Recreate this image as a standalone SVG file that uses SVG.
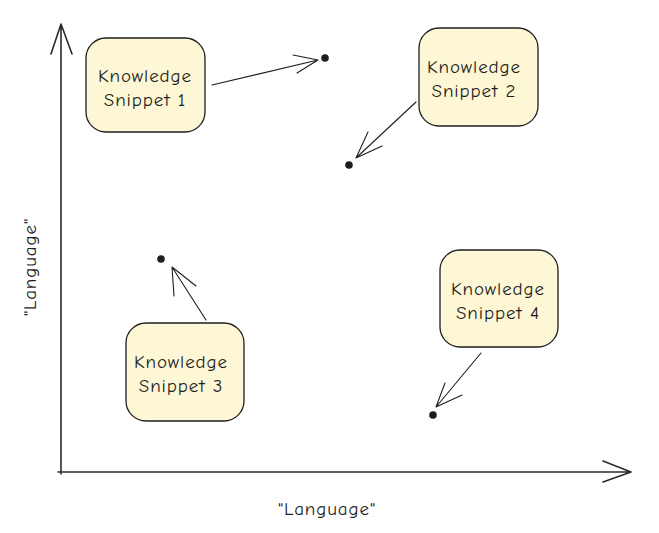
<svg xmlns="http://www.w3.org/2000/svg" width="659" height="533" viewBox="0 0 659 533">
<defs>
<style>
.box{fill:#fdf7d5;stroke:#1e1e1e;stroke-width:1.3}
.t{font-family:"Comic Neue","Liberation Sans",sans-serif;font-size:19px;letter-spacing:0.9px;fill:#1e1e1e;text-anchor:middle}
.ln{fill:none;stroke:#1e1e1e;stroke-width:1.1;stroke-linecap:round;stroke-linejoin:round}
.ax{fill:none;stroke:#2b2b2b;stroke-width:1.6;stroke-linecap:round;stroke-linejoin:round}
.dot{fill:#1e1e1e}
</style>
</defs>
<rect width="659" height="533" fill="#ffffff"/>
<g id="connectors">
<path class="ax" d="M61 474 L61 24 M51 54 L61 24 L72 54"/>
<path class="ax" d="M58 472 L631 472 M603 461 L631 472 L603 482"/>
<path class="ln" d="M212 85 L318 60 M293 55 L318 60 M297 73 L318 60"/>
<path class="ln" d="M416 102 L356 158 M368 132 L356 158 M382 146 L356 158"/>
<path class="ln" d="M206 320 L172 267 M174 296 L172 267 M196 286 L172 267"/>
<path class="ln" d="M481 353 L436 407 M445 383 L436 407 M462 395 L436 407"/>
</g>
<g id="dot1"><circle class="dot" cx="325" cy="58" r="3.8"/></g>
<g id="dot2"><circle class="dot" cx="349" cy="165" r="3.8"/></g>
<g id="dot3"><circle class="dot" cx="161" cy="259" r="3.8"/></g>
<g id="dot4"><circle class="dot" cx="433" cy="415" r="3.8"/></g>
<g id="snippet1">
<rect class="box" x="86" y="38" width="119" height="94" rx="20"/>
<text class="t" x="145" y="82">Knowledge</text>
<text class="t" x="145" y="106">Snippet 1</text>
</g>
<g id="snippet2">
<rect class="box" x="419" y="28" width="119" height="98" rx="20"/>
<text class="t" x="474" y="73">Knowledge</text>
<text class="t" x="474" y="97">Snippet 2</text>
</g>
<g id="snippet3">
<rect class="box" x="126" y="323" width="118" height="98" rx="20"/>
<text class="t" x="181" y="368">Knowledge</text>
<text class="t" x="181" y="392">Snippet 3</text>
</g>
<g id="snippet4">
<rect class="box" x="440" y="250" width="118" height="97" rx="20"/>
<text class="t" x="498" y="295">Knowledge</text>
<text class="t" x="498" y="319">Snippet 4</text>
</g>
<g id="labels">
<text class="t" x="327" y="515">"Language"</text>
<text class="t" transform="translate(36 267) rotate(-90)">"Language"</text>
</g>
</svg>
